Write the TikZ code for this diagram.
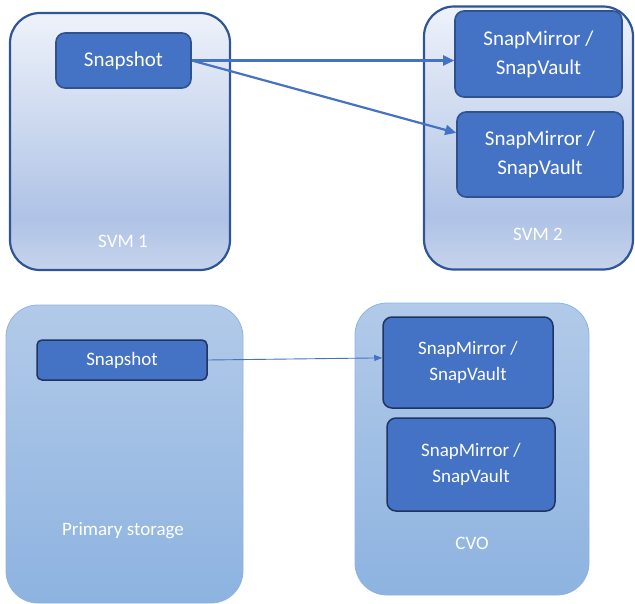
\documentclass[tikz,border=0pt]{standalone}
\usepackage{fontspec}
\setmainfont{Carlito}
\usetikzlibrary{arrows.meta,calc}
\definecolor{accent}{HTML}{4472C4}
\definecolor{accentdark}{HTML}{2F528F}
\definecolor{svmborder}{HTML}{2F5597}
\definecolor{svmtop}{HTML}{EEF2FA}
\definecolor{svmmid}{HTML}{AFC3E6}
\definecolor{svmbot}{HTML}{C6D3EC}
\definecolor{cloudtop}{HTML}{B2CAE9}
\definecolor{cloudbot}{HTML}{8DB3E0}
\definecolor{cloudborder}{HTML}{8FB4E0}
\definecolor{innerdark}{HTML}{203460}
\pgfdeclareverticalshading{svmshade}{100bp}{color(0bp)=(svmbot); color(25bp)=(svmbot); color(35bp)=(svmmid); color(75bp)=(svmtop); color(100bp)=(svmtop)}
\pgfdeclareverticalshading{cloudshade}{100bp}{color(0bp)=(cloudbot); color(25bp)=(cloudbot); color(75bp)=(cloudtop); color(100bp)=(cloudtop)}
\tikzset{
  svmbox/.style={draw=svmborder, line width=2.2pt, rounded corners=30pt, shading=svmshade, rectangle, inner sep=0pt},
  cloudbox/.style={draw=cloudborder, line width=0.8pt, rounded corners=32pt, shading=cloudshade, rectangle, inner sep=0pt},
  topitem/.style={draw=accentdark, line width=1.6pt, fill=accent, rounded corners=9pt, rectangle, inner sep=0pt, text=white, font=\fontsize{21}{29}\selectfont, align=center},
  botitem/.style={draw=innerdark, line width=1.5pt, fill=accent, rounded corners=9pt, rectangle, inner sep=0pt, text=white, font=\fontsize{19}{26}\selectfont, align=center},
  caption/.style={text=white, font=\fontsize{19}{23}\selectfont, inner sep=0pt},
  thickarrow/.style={draw=accent, line width=2.2pt, -{Triangle[length=11pt,width=10pt]}},
  thinarrow/.style={draw=accent, line width=0.9pt, -{Triangle[length=8pt,width=6pt]}},
}
\begin{document}
\begin{tikzpicture}[x=1pt,y=-1pt]
\useasboundingbox (0,0) rectangle (635,603);
% top containers
\node[svmbox, minimum width=220pt, minimum height=257pt] (svm1) at (120,141.5) {};
\node[svmbox, minimum width=209pt, minimum height=263pt] (svm2) at (528.5,138) {};
\node[caption] (svm1lbl) at (123,241) {SVM 1};
\node[caption] (svm2lbl) at (538,234) {SVM 2};
\node[topitem, minimum width=135pt, minimum height=55pt] (snap1) at (123.5,60.5) {Snapshot};
\node[topitem, minimum width=167pt, minimum height=86pt] (sm1) at (538.5,54) {SnapMirror /\\SnapVault};
\node[topitem, minimum width=166pt, minimum height=85pt] (sm2) at (540,154.5) {SnapMirror /\\SnapVault};
\draw[thickarrow] (snap1.east) -- (snap1.east -| sm1.west);
\draw[thickarrow] (snap1.east) -- ($(sm2.north west)!0.25!(sm2.south west)$);
% bottom containers
\node[cloudbox, minimum width=237pt, minimum height=298pt] (prim) at (124.5,454) {};
\node[cloudbox, minimum width=234pt, minimum height=292pt] (cvo) at (472,449) {};
\node[caption] (primlbl) at (123,531) {Primary storage};
\node[caption] (cvolbl) at (472,543) {CVO};
\node[botitem, minimum width=170pt, minimum height=40pt, rounded corners=5pt] (snap2) at (122,360) {Snapshot};
\node[botitem, minimum width=170pt, minimum height=91pt] (sm3) at (468,362.5) {SnapMirror /\\SnapVault};
\node[botitem, minimum width=168pt, minimum height=93pt] (sm4) at (471,464.5) {SnapMirror /\\SnapVault};
\draw[thinarrow] (snap2.east) -- ($(sm3.north west)!0.45!(sm3.south west)$);
\end{tikzpicture}
\end{document}
